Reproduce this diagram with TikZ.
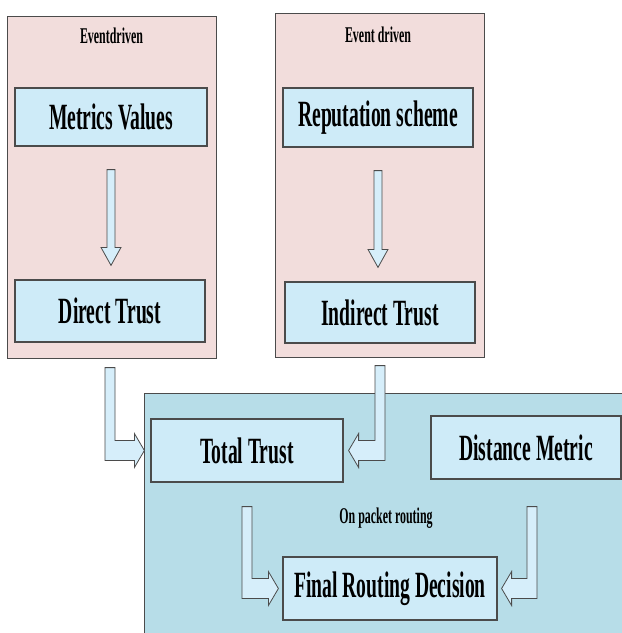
\documentclass[tikz,border=0pt]{standalone}
\usepackage{fontspec}
\setmainfont{Liberation Serif}[FakeStretch=0.53]
\usetikzlibrary{calc}

\definecolor{groupPink}{RGB}{242,221,220}
\definecolor{boxBlue}{RGB}{206,235,248}
\definecolor{routeBlue}{RGB}{183,221,232}
\definecolor{arrowBlue}{RGB}{214,238,250}
\definecolor{edgeGray}{RGB}{75,75,75}

\newcommand{\downblock}[2]{%
  \coordinate (tip) at ($(#1.south |- #2.north)+(0,-14)$);
  \draw[blockarrow] ($(#1.south)+(-4,23)$) -- ($(tip)+(-4,-18)$) -- ($(tip)+(-10,-18)$) -- (tip)
    -- ($(tip)+(10,-18)$) -- ($(tip)+(4,-18)$) -- ($(#1.south)+(4,23)$) -- cycle;
}
\newcommand{\bentblock}[3]{%
  \coordinate (bend) at (#1 |- #2);
  \draw[blockarrow] ($(#1)+({-5*#3},0)$) -- ($(bend)+({-5*#3},10)$) -- ($(#2)+({-10*#3},10)$)
    -- ($(#2)+({-10*#3},17)$) -- (#2) -- ($(#2)+({-10*#3},-17)$) -- ($(#2)+({-10*#3},-10)$)
    -- ($(bend)+({5*#3},-10)$) -- ($(#1)+({5*#3},0)$) -- cycle;
}

\begin{document}
\begin{tikzpicture}[x=1pt,y=-1pt,
    groupbox/.style={draw=edgeGray, line width=1pt, fill=groupPink},
    routebox/.style={draw=edgeGray, line width=1pt, fill=routeBlue},
    stage/.style={draw=edgeGray, line width=1.2pt, fill=boxBlue, inner sep=0pt,
      font=\fontsize{37}{42}\selectfont\bfseries},
    note/.style={font=\fontsize{22.5}{26}\selectfont\bfseries},
    blockarrow/.style={draw=edgeGray, line width=0.8pt, fill=arrowBlue, line join=miter}]
  \useasboundingbox (0,0) rectangle (622,633);

  \draw[groupbox] (7,16) rectangle (216,358);
  \draw[groupbox] (275,13) rectangle (484,357);
  \draw[routebox] (144,393) rectangle (630,640);

  \node[note] (evl) at (111.5,36) {Eventdriven};
  \node[note] (evr) at (378,35) {Event driven};
  \node[note] (onp) at (386,518) {On packet routing};

  \node[stage, minimum width=192, minimum height=58] (mv) at (111,117) {Metrics Values};
  \node[stage, minimum width=190, minimum height=62] (dt) at (110,311) {Direct Trust};
  \node[stage, minimum width=190, minimum height=59] (rs) at (378,117.5) {Reputation scheme};
  \node[stage, minimum width=190, minimum height=61] (it) at (380,312.5) {Indirect Trust};
  \node[stage, minimum width=192, minimum height=63] (tt) at (247,450.5) {Total Trust};
  \node[stage, minimum width=190, minimum height=63] (dm) at (526,447.5) {Distance Metric};
  \node[stage, minimum width=214, minimum height=63] (fr) at (390,588.5) {Final Routing Decision};

  \downblock{mv}{dt}
  \downblock{rs}{it}

  \coordinate (dtout) at ($(dt.south)+(0,25)$);
  \coordinate (itout) at ($(it.south)+(0,22)$);
  \coordinate (ttout) at ($(tt.south)+(0,24)$);
  \coordinate (dmout) at ($(dm.south)+(6,27)$);
  \coordinate (ttin) at ($(tt.west)+(-6,0)$);
  \coordinate (ttinr) at ($(tt.east)+(5,0)$);
  \coordinate (frin) at ($(fr.west)+(-4,0)$);
  \coordinate (frinr) at ($(fr.east)+(4,0)$);

  \bentblock{dtout}{ttin}{1}
  \bentblock{itout}{ttinr}{-1}
  \bentblock{ttout}{frin}{1}
  \bentblock{dmout}{frinr}{-1}
\end{tikzpicture}
\end{document}
